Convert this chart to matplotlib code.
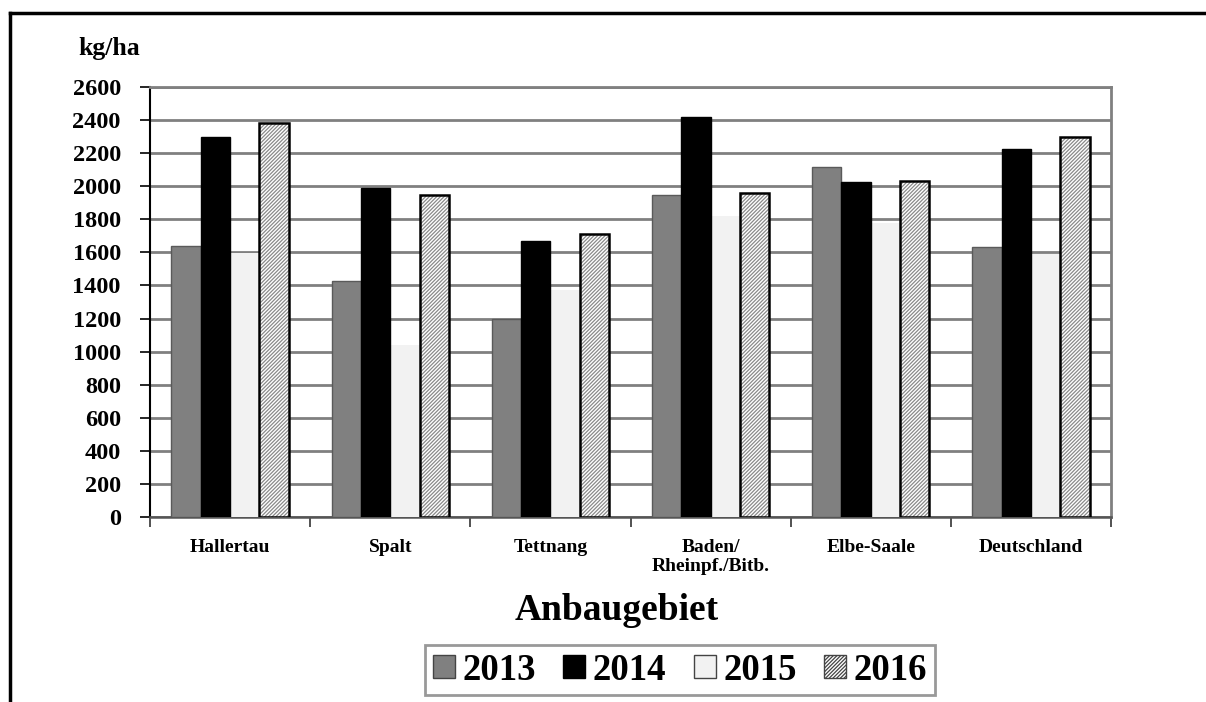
import matplotlib
matplotlib.use("Agg")
import matplotlib.pyplot as plt
from matplotlib.patches import Patch
from matplotlib.lines import Line2D
import numpy as np

categories = ["Hallertau", "Spalt", "Tettnang", "Baden/\nRheinpf./Bitb.", "Elbe-Saale", "Deutschland"]
years = ["2013", "2014", "2015", "2016"]
v2013 = [1640, 1430, 1195, 1950, 2115, 1630]
v2014 = [2295, 1990, 1670, 2420, 2025, 2225]
v2015 = [1595, 1040, 1375, 1820, 1780, 1590]
v2016 = [2385, 1950, 1710, 1960, 2030, 2300]
yticks = list(range(0, 2601, 200))

plt.rcParams['font.family'] = ['Liberation Serif', 'DejaVu Serif']
plt.rcParams['font.weight'] = 'bold'
plt.rcParams['hatch.linewidth'] = 0.9

fig = plt.figure(figsize=(12.06, 7.02), dpi=100)
ax = fig.add_axes([150/1206, 1-517/702, (1111-150)/1206, (517-87)/702])

x = np.arange(len(categories))
w = 0.183
offs = [-1.5*w, -0.5*w, 0.5*w, 1.5*w]

ax.bar(x+offs[0], v2013, w, color='#808080', edgecolor='#5a5a5a', linewidth=1, zorder=3)
ax.bar(x+offs[1], v2014, w, color='#000000', edgecolor='#000000', linewidth=1, zorder=3)
ax.bar(x+offs[2], v2015, w, color='#f2f2f2', linewidth=0, zorder=2.9)
plt.rcParams['hatch.color'] = '#8a8a8a'
ax.bar(x+offs[3], v2016, w, color='white', edgecolor='#8a8a8a', hatch='/////////', linewidth=0, zorder=3)
ax.bar(x+offs[3], v2016, w, color='none', edgecolor='black', linewidth=1.8, zorder=4)

ax.set_xlim(-0.5, len(categories)-0.5)
ax.set_ylim(0, 2600)
ax.set_yticks(yticks)
ax.set_yticklabels([str(t) for t in yticks], fontsize=17.5, fontweight='bold')
ax.yaxis.grid(True, color='#808080', linewidth=2, zorder=0)
ax.set_axisbelow(True)

ax.set_xticks(np.arange(-0.5, len(categories), 1.0))
ax.set_xticklabels([])
ax.set_xticks(x, minor=True)
ax.set_xticklabels(categories, minor=True, fontsize=14, fontweight='bold', linespacing=1.15)
ax.tick_params(axis='x', which='minor', length=0, pad=16)
ax.tick_params(axis='x', which='major', length=7, width=1.2, color='#333333', direction='out')
ax.tick_params(axis='y', length=7, width=1.2, color='black', direction='out', pad=14)

for s in ['top', 'right']:
    ax.spines[s].set_color('#808080')
    ax.spines[s].set_linewidth(2)
ax.spines['bottom'].set_color('#555555')
ax.spines['bottom'].set_linewidth(1.8)
ax.spines['left'].set_color('black')
ax.spines['left'].set_linewidth(1.5)

fig.text(78/1206, 1-49/702, "kg/ha", fontsize=18.5, fontweight='bold', va='center', ha='left')
fig.text(617/1206, 1-610/702, "Anbaugebiet", fontsize=27, fontweight='bold', va='center', ha='center')

handles = [
    Patch(facecolor='#808080', edgecolor='#444444', linewidth=1),
    Patch(facecolor='#000000', edgecolor='#000000', linewidth=1),
    Patch(facecolor='#f2f2f2', edgecolor='#444444', linewidth=1),
    Patch(facecolor='white', edgecolor='#444444', hatch='/////////', linewidth=1),
]
leg = fig.legend(handles, years, loc='center', bbox_to_anchor=(680/1206, 1-670/702),
                 ncol=4, frameon=True, fancybox=False, edgecolor='#808080',
                 prop={'family': 'Liberation Serif', 'weight': 'bold', 'size': 26.5},
                 handlelength=0.6, handleheight=0.6, handletextpad=0.2,
                 columnspacing=0.75, borderpad=0.2)
leg.get_frame().set_linewidth(2)

# outer frame (top and left edges)
fig.add_artist(Line2D([10/1206, 1], [1-13/702, 1-13/702], color='black', linewidth=2.5, transform=fig.transFigure))
fig.add_artist(Line2D([10/1206, 10/1206], [0, 1-13/702], color='black', linewidth=2.5, transform=fig.transFigure))

fig.savefig("out.png", dpi=100)
